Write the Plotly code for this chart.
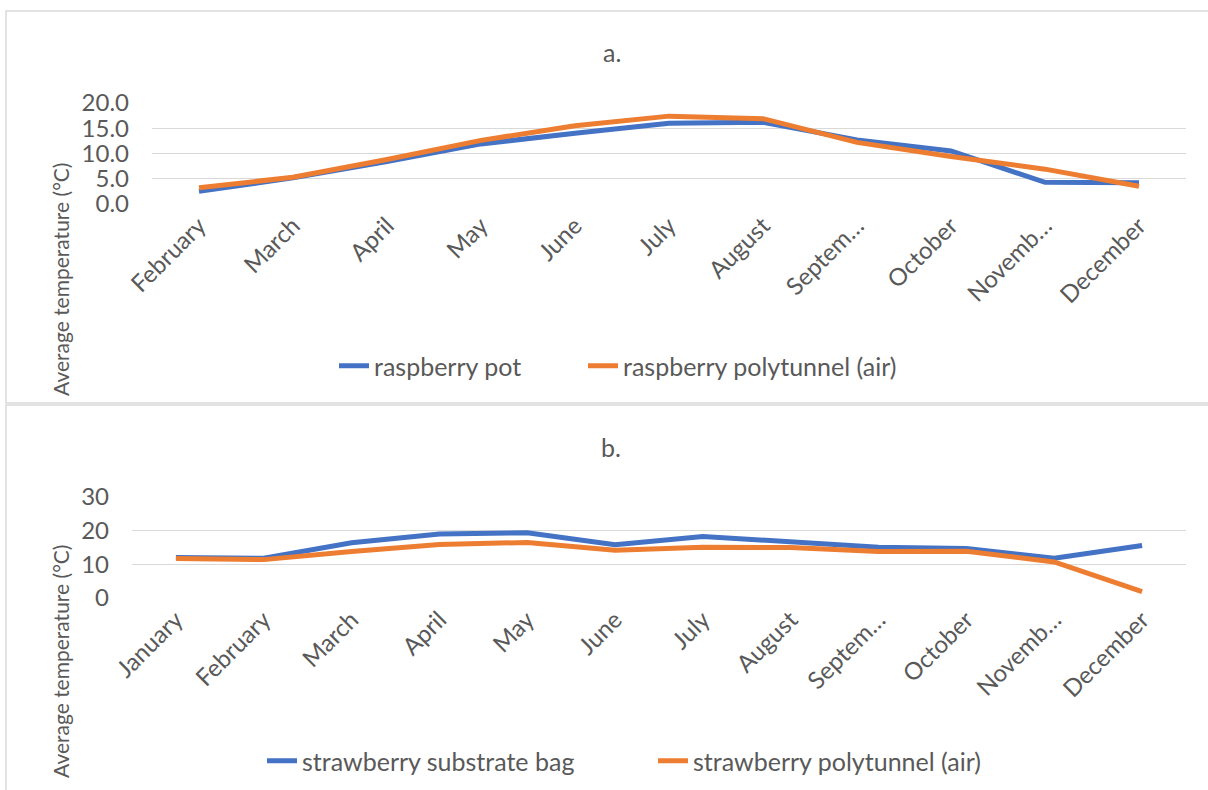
import plotly.graph_objects as go

# ---- data ----
months_a = ["February", "March", "April", "May", "June", "July", "August",
            "September", "October", "November", "December"]
ticks_a = ["February", "March", "April", "May", "June", "July", "August",
           "Septem…", "October", "Novemb…", "December"]
raspberry_pot = [2.5, 5.2, 8.4, 11.9, 14.0, 16.0, 16.2, 12.7, 10.5, 4.3, 4.2]
raspberry_air = [3.2, 5.3, 8.8, 12.6, 15.5, 17.4, 16.9, 12.2, 9.4, 6.9, 3.5]

months_b = ["January", "February", "March", "April", "May", "June", "July",
            "August", "September", "October", "November", "December"]
ticks_b = ["January", "February", "March", "April", "May", "June", "July",
           "August", "Septem…", "October", "Novemb…", "December"]
strawberry_bag = [12.0, 11.8, 16.4, 19.0, 19.4, 15.8, 18.3, 16.8, 15.1, 14.7, 11.8, 15.6]
strawberry_air = [11.7, 11.4, 13.8, 15.9, 16.5, 14.2, 15.1, 15.0, 13.8, 13.9, 10.7, 1.9]

BLUE = "#4472C4"
ORANGE = "#ED7D31"
GREY = "#595959"
GRID = "#D9D9D9"
FONT = "Lato"
W, H = 1208, 790

def px(x):
    return x / W

def py(y):
    return 1 - y / H

fig = go.Figure()
fig.add_trace(go.Scatter(x=months_a, y=raspberry_pot, name="raspberry pot", mode="lines",
                         line=dict(color=BLUE, width=5), xaxis="x", yaxis="y", legend="legend"))
fig.add_trace(go.Scatter(x=months_a, y=raspberry_air, name="raspberry polytunnel (air)", mode="lines",
                         line=dict(color=ORANGE, width=5), xaxis="x", yaxis="y", legend="legend2"))
fig.add_trace(go.Scatter(x=months_b, y=strawberry_bag, name="strawberry substrate bag", mode="lines",
                         line=dict(color=BLUE, width=5), xaxis="x2", yaxis="y2", legend="legend3"))
fig.add_trace(go.Scatter(x=months_b, y=strawberry_air, name="strawberry polytunnel (air)", mode="lines",
                         line=dict(color=ORANGE, width=5), xaxis="x2", yaxis="y2", legend="legend4"))

tickfont = dict(family=FONT, size=24, color=GREY)
common_x = dict(type="category", showgrid=False, showline=False, ticks="", tickangle=-45,
                tickfont=tickfont, zeroline=False, fixedrange=True, automargin=False,
                ticklabelstandoff=2)
common_y = dict(showgrid=True, gridcolor=GRID, gridwidth=1, zeroline=False, showline=False,
                ticks="", tickfont=tickfont, fixedrange=True, automargin=False,
                ticklabelstandoff=22)
legfont = dict(family=FONT, size=25, color=GREY)

def leg(x_text, y):
    # legend text begins 40px right of the legend's left edge
    return dict(orientation="h", x=px(x_text - 40), y=py(y), xanchor="left", yanchor="middle",
                font=legfont, bgcolor="rgba(0,0,0,0)", borderwidth=0)

fig.update_layout(
    width=W, height=H, autosize=False,
    margin=dict(l=0, r=0, t=0, b=0, pad=0, autoexpand=False),
    paper_bgcolor="white", plot_bgcolor="white",
    font=dict(family=FONT, color=GREY),
    xaxis=dict(domain=[px(152), px(1186)], anchor="y", categoryarray=months_a,
               range=[-0.5, len(months_a) - 0.5],
               tickvals=months_a, ticktext=ticks_a, **common_x),
    yaxis=dict(domain=[py(204), py(103)], anchor="x", range=[0, 20], dtick=5,
               tickformat=".1f", **common_y),
    xaxis2=dict(domain=[px(132), px(1186)], anchor="y2", categoryarray=months_b,
                range=[-0.5, len(months_b) - 0.5],
                tickvals=months_b, ticktext=ticks_b, **common_x),
    yaxis2=dict(domain=[py(598), py(497)], anchor="x2", range=[0, 30], dtick=10,
                **common_y),
    legend=leg(374, 366),
    legend2=leg(623, 366),
    legend3=leg(302, 761),
    legend4=leg(693, 761),
    showlegend=True,
)

annotations = [
    dict(text="a.", x=px(612), y=py(52), xref="paper", yref="paper", showarrow=False,
         font=dict(family=FONT, size=25, color=GREY), xanchor="center", yanchor="middle"),
    dict(text="b.", x=px(611), y=py(447), xref="paper", yref="paper", showarrow=False,
         font=dict(family=FONT, size=25, color=GREY), xanchor="center", yanchor="middle"),
    dict(text="Average temperature (°C)", x=px(60), y=py(279), xref="paper", yref="paper",
         showarrow=False, textangle=-90, font=dict(family=FONT, size=21, color=GREY),
         xanchor="center", yanchor="middle"),
    dict(text="Average temperature (°C)", x=px(60), y=py(661), xref="paper", yref="paper",
         showarrow=False, textangle=-90, font=dict(family=FONT, size=21, color=GREY),
         xanchor="center", yanchor="middle"),
]
fig.update_layout(annotations=annotations)

shapes = [
    dict(type="rect", xref="paper", yref="paper", x0=px(6), x1=px(1212), y0=py(403), y1=py(11),
         line=dict(color=GRID, width=1.5), fillcolor="rgba(0,0,0,0)", layer="below"),
    dict(type="rect", xref="paper", yref="paper", x0=px(6), x1=px(1212), y0=py(800), y1=py(405),
         line=dict(color=GRID, width=1.5), fillcolor="rgba(0,0,0,0)", layer="below"),
]
fig.update_layout(shapes=shapes)

fig.write_html("out.html")
